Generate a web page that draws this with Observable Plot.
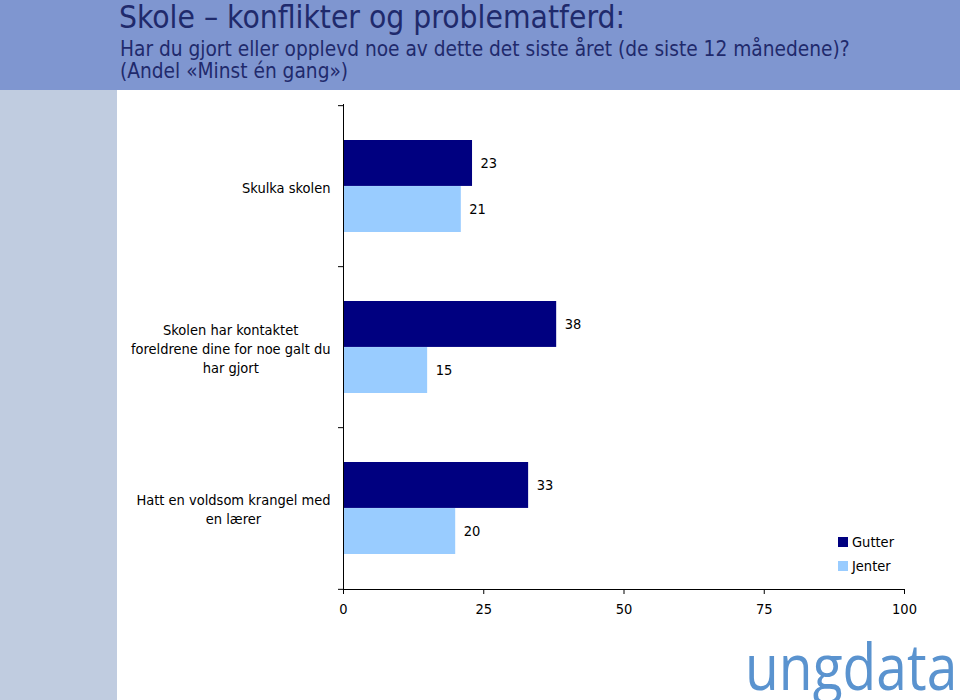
<!DOCTYPE html>
<html>
<head>
<meta charset="utf-8">
<script src="https://cdn.jsdelivr.net/npm/d3@7"></script>
<script src="https://cdn.jsdelivr.net/npm/@observablehq/plot@0.6"></script>
<style>
  html, body { margin: 0; padding: 0; }
  body { width: 960px; height: 700px; overflow: hidden; background: #ffffff; position: relative;
         font-family: "DejaVu Sans Condensed", "DejaVu Sans", sans-serif; }
  #header { position: absolute; left: 0; top: 0; width: 960px; height: 90px; background: #7f96d0; }
  #side { position: absolute; left: 0; top: 90px; width: 117px; height: 610px; background: #c0cce0; }
  #title { position: absolute; left: 119px; top: -1px; font-size: 31.5px; line-height: 36px; color: #1f2a6c; white-space: nowrap; }
  #subtitle { position: absolute; left: 120px; top: 38px; font-size: 20.7px; line-height: 22px; color: #1f2a6c; white-space: nowrap; }
  #chart { position: absolute; left: 0; top: 90px; }
  #legend { position: absolute; left: 838px; top: 530px; font-size: 14.5px; color: #000; }
  #legend .item { display: flex; align-items: center; height: 24px; }
  #legend .sw { width: 10px; height: 10px; margin-right: 4px; }
  #logo { position: absolute; left: 745px; top: 622px; font-family: "Open Sans", "Lato", sans-serif; font-weight: 400;
          font-size: 64px; line-height: 87px; color: #5a93cf; white-space: nowrap; transform-origin: 0 0; }
</style>
</head>
<body>
<div id="header"></div>
<div id="side"></div>
<div id="title">Skole – konflikter og problematferd:</div>
<div id="subtitle">Har du gjort eller opplevd noe av dette det siste året (de siste 12 månedene)?<br>(Andel «Minst én gang»)</div>
<div id="chart"></div>
<div id="legend"></div>
<div id="logo">ungdata</div>
<script>
// ---- data ----
const categories = [
  "Skulka skolen",
  "Skolen har kontaktet\nforeldrene dine for noe galt du\nhar gjort",
  "Hatt en voldsom krangel med\nen lærer"
];
const seriesNames = ["Gutter", "Jenter"];
const gutterValues = [23, 38, 33];
const jenterValues = [21, 15, 20];
const xTicks = [0, 25, 50, 75, 100];
const seriesColors = ["#000080", "#99ccff"];

const data = [];
categories.forEach((c, i) => {
  data.push({category: c, series: seriesNames[0], value: gutterValues[i]});
  data.push({category: c, series: seriesNames[1], value: jenterValues[i]});
});

// ---- layout ----
const fontFamily = '"DejaVu Sans Condensed", "DejaVu Sans", sans-serif';
const fs = 14.5;
const W = 960, H = 560, mt = 14, mb = 61, ml = 343, mr = 56;
const padIn = 0.43, padOut = padIn / 2;
const step = (H - mt - mb) / categories.length;
const half = step * (1 - padIn) / 2;

const ctx = document.createElement("canvas").getContext("2d");
ctx.font = `${fs}px ${fontFamily}`;
const blockWidth = s => Math.max(...s.split("\n").map(l => ctx.measureText(l).width));

const labelMarks = categories.map(c =>
  Plot.text([c], {
    y: d => d, text: d => d, frameAnchor: "left", textAnchor: "middle",
    lineAnchor: "middle", lineHeight: 1.31, fontSize: fs, fill: "#000",
    dx: -(13 + blockWidth(c) / 2)
  })
);

const gData = data.filter(d => d.series === seriesNames[0]);
const jData = data.filter(d => d.series === seriesNames[1]);

const chart = Plot.plot({
  width: W, height: H,
  marginTop: mt, marginBottom: mb, marginLeft: ml, marginRight: mr,
  style: {fontFamily, fontSize: `${fs}px`, color: "#000", background: "transparent", overflow: "visible"},
  x: {domain: [0, 100], ticks: xTicks},
  y: {domain: categories, paddingInner: padIn, paddingOuter: padOut},
  marks: [
    Plot.barX(gData, {x: "value", y: "category", fill: seriesColors[0], insetBottom: half}),
    Plot.barX(jData, {x: "value", y: "category", fill: seriesColors[1], insetTop: half}),
    Plot.text(gData, {x: "value", y: "category", text: d => String(d.value), textAnchor: "start", dx: 8, dy: -half / 2, fontSize: fs, fill: "#000"}),
    Plot.text(jData, {x: "value", y: "category", text: d => String(d.value), textAnchor: "start", dx: 8, dy: half / 2, fontSize: fs, fill: "#000"}),
    Plot.ruleX([0], {stroke: "#000", strokeWidth: 1}),
    Plot.frame({anchor: "bottom", stroke: "#000", strokeWidth: 1}),
    Plot.axisX({ticks: xTicks, tickSize: 5, tickPadding: 9, label: null, fontSize: fs, anchor: "bottom"}),
    Plot.axisY({ticks: categories, tickSize: 5, tickFormat: () => "", label: null, dy: -step / 2}),
    Plot.axisY({ticks: [categories[categories.length - 1]], tickSize: 5, tickFormat: () => "", label: null, dy: step / 2}),
    ...labelMarks
  ]
});
document.getElementById("chart").appendChild(chart);

// ---- legend ----
const legend = document.getElementById("legend");
seriesNames.forEach((s, i) => {
  const item = document.createElement("div");
  item.className = "item";
  const sw = document.createElement("div");
  sw.className = "sw";
  sw.style.background = seriesColors[i];
  const t = document.createElement("span");
  t.textContent = s;
  item.appendChild(sw); item.appendChild(t);
  legend.appendChild(item);
});

// ---- logo: fit to its width ----
const logo = document.getElementById("logo");
const lw = logo.scrollWidth;
logo.style.transform = `scaleX(${212 / lw})`;
</script>
</body>
</html>
